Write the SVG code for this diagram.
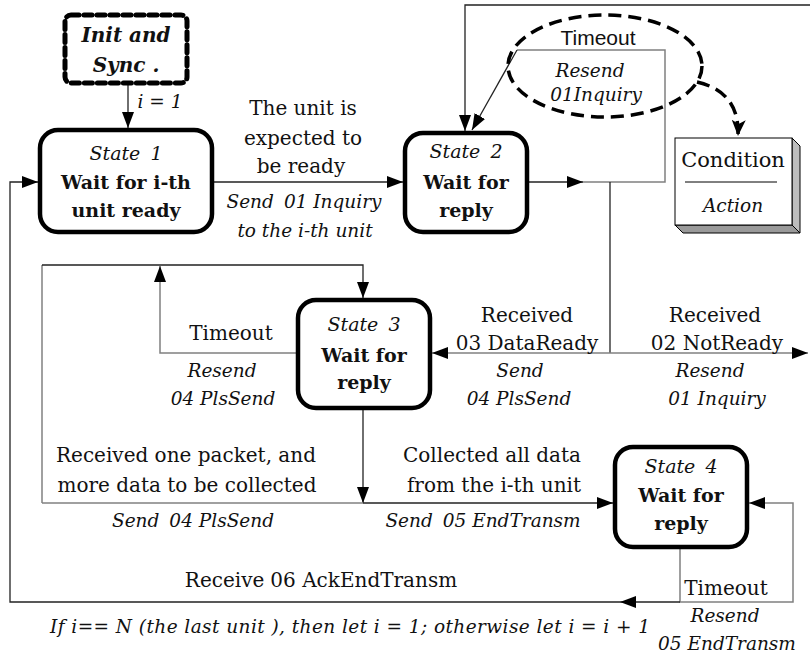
<svg xmlns="http://www.w3.org/2000/svg" width="810" height="658" viewBox="0 0 810 658">
<defs>
<style>
.t{font-family:"DejaVu Serif",serif;font-size:20px;fill:#111;text-anchor:middle}
.i{font-style:italic;font-size:18.5px}
.b{font-weight:bold;font-size:19px}
.st{font-style:italic;font-size:19px}
.bi{font-style:italic;font-weight:bold;font-size:20px}
.sans{font-family:"Liberation Sans",Arial,sans-serif;font-size:21px;fill:#111;text-anchor:middle}
.k{fill:none;stroke:#222;stroke-width:1.3}
.g{fill:none;stroke:#808080;stroke-width:1.5}
.state{fill:#fff;stroke:#000;stroke-width:4.5}
</style>
<marker id="ah" viewBox="0 0 16 12" refX="16" refY="6" markerWidth="16" markerHeight="12" markerUnits="userSpaceOnUse" orient="auto"><path d="M0,0 L16,6 L0,12 z" fill="#000"/></marker>
<marker id="ah2" viewBox="0 0 16 14" refX="16" refY="7" markerWidth="16" markerHeight="14" markerUnits="userSpaceOnUse" orient="auto"><path d="M0,0 L16,7 L0,14 L4,7 z" fill="#000"/></marker>
</defs>
<rect width="810" height="658" fill="#fff"/>

<g id="connectors">
  <!-- init to state1 -->
  <path class="k" d="M128,84 L128,128" marker-end="url(#ah)"/>
  <!-- state1 to state2 -->
  <path class="k" d="M212,182 L403,182" marker-end="url(#ah)"/>
  <!-- top line into state2 -->
  <path class="k" d="M810,5 L465,5 L465,131" marker-end="url(#ah)"/>
  <!-- state2 out -->
  <path class="k" d="M527,182 L583,182" marker-end="url(#ah)"/>
  <path class="g" d="M583,182 L665,182 L665,50 L517,50"/>
  <path class="k" d="M517,50 L472,130" marker-end="url(#ah)"/>
  <!-- down to received -->
  <path class="k" d="M610,182 L610,353"/>
  <path class="g" d="M610,353 L432,353" marker-end="url(#ah)"/>
  <path class="g" d="M610,353 L808,353" marker-end="url(#ah)"/>
  <!-- state3 timeout -->
  <path class="g" d="M298,353 L160,353 L160,266" marker-end="url(#ah)"/>
  <!-- loop into state3 top -->
  <path class="g" d="M42,503 L42,265"/>
  <path class="k" d="M42,265 L363,265 L363,298" marker-end="url(#ah)"/>
  <!-- state3 down -->
  <path class="k" d="M363,408 L363,503" marker-end="url(#ah)"/>
  <path class="g" d="M363,503 L42,503"/>
  <path class="k" d="M363,503 L613,503" marker-end="url(#ah)"/>
  <!-- state4 out -->
  <path class="g" d="M680,547 L680,602 L793,602 L793,503 L749,503" marker-end="url(#ah)"/>
  <path class="k" d="M680,602 L620,602" marker-end="url(#ah)"/>
  <path class="k" d="M620,602 L10,602 L10,182 L38,182" marker-end="url(#ah)"/>
  <!-- legend -->
  <ellipse cx="605" cy="66" rx="97" ry="51" fill="none" stroke="#000" stroke-width="3.5" stroke-dasharray="13 7"/>
  <path d="M697,82 Q740,92 738,136" fill="none" stroke="#000" stroke-width="3.5" stroke-dasharray="13 7" marker-end="url(#ah2)"/>
</g>

<g id="init">
  <rect x="65" y="15" width="122" height="68" rx="6" fill="#fff" stroke="#000" stroke-width="5" stroke-dasharray="8 5" stroke-linecap="round"/>
  <text class="t bi" x="126" y="42">Init and</text>
  <text class="t bi" x="126" y="72">Sync .</text>
</g>

<g id="state1">
  <rect class="state" x="40" y="130" width="172" height="102" rx="18"/>
  <text class="t st" x="126" y="160" word-spacing="4">State 1</text>
  <text class="t b" x="126" y="189">Wait for i-th</text>
  <text class="t b" x="126" y="217">unit ready</text>
</g>

<g id="state2">
  <rect class="state" x="405" y="133" width="122" height="99" rx="18"/>
  <text class="t st" x="466" y="158" word-spacing="4">State 2</text>
  <text class="t b" x="466" y="189">Wait for</text>
  <text class="t b" x="466" y="217">reply</text>
</g>

<g id="state3">
  <rect class="state" x="298" y="300" width="132" height="108" rx="18"/>
  <text class="t st" x="364" y="331" word-spacing="4">State 3</text>
  <text class="t b" x="364" y="362">Wait for</text>
  <text class="t b" x="364" y="389">reply</text>
</g>

<g id="state4">
  <rect class="state" x="615" y="447" width="132" height="100" rx="18"/>
  <text class="t st" x="681" y="473" word-spacing="4">State 4</text>
  <text class="t b" x="681" y="502">Wait for</text>
  <text class="t b" x="681" y="530">reply</text>
</g>

<g id="legend">
  <polygon points="792,138 800,146 800,233 792,225" fill="#bdbdbd" stroke="#000" stroke-width="1"/>
  <polygon points="675,225 683,233 800,233 792,225" fill="#9a9a9a" stroke="#000" stroke-width="1"/>
  <rect x="675" y="138" width="117" height="87" fill="#fff" stroke="#000" stroke-width="1"/>
  <text class="t" x="733" y="167" style="font-size:21px">Condition</text>
  <line x1="685" y1="182" x2="777" y2="182" stroke="#000" stroke-width="1"/>
  <text class="t i" x="733" y="212">Action</text>
</g>

<g id="labels">
  <text class="t i" x="160" y="108">i = 1</text>
  <text class="t" x="303" y="115">The unit is</text>
  <text class="t" x="303" y="145">expected to</text>
  <text class="t" x="301" y="173">be ready</text>
  <text class="t i" x="304" y="208">Send<tspan dx="10">01 Inquiry</tspan></text>
  <text class="t i" x="305" y="237">to the i-th unit</text>
  <text class="sans" x="598" y="45">Timeout</text>
  <text class="t i" x="590" y="77">Resend</text>
  <text class="t i" x="596" y="101">01Inquiry</text>
  <text class="t" x="527" y="322">Received</text>
  <text class="t" x="527" y="350">03 DataReady</text>
  <text class="t i" x="520" y="377">Send</text>
  <text class="t i" x="519" y="405">04 PlsSend</text>
  <text class="t" x="715" y="322">Received</text>
  <text class="t" x="717" y="350">02 NotReady</text>
  <text class="t i" x="710" y="377">Resend</text>
  <text class="t i" x="717" y="405">01 Inquiry</text>
  <text class="t" x="231" y="340">Timeout</text>
  <text class="t i" x="222" y="377">Resend</text>
  <text class="t i" x="223" y="405">04 PlsSend</text>
  <text class="t" x="186" y="462">Received one packet, and</text>
  <text class="t" x="187" y="492">more data to be collected</text>
  <text class="t i" x="193" y="527">Send<tspan dx="10">04 PlsSend</tspan></text>
  <text class="t" x="492" y="462">Collected all data</text>
  <text class="t" x="494" y="492">from the i-th unit</text>
  <text class="t i" x="483" y="527">Send<tspan dx="10">05 EndTransm</tspan></text>
  <text class="t" x="321" y="587">Receive<tspan dx="6">06 AckEndTransm</tspan></text>
  <text class="t i" x="350" y="633" textLength="600">If i== N (the last unit ), then let i = 1; otherwise let i = i + 1</text>
  <text class="t" x="726" y="595">Timeout</text>
  <text class="t i" x="725" y="622">Resend</text>
  <text class="t i" x="727" y="650">05 EndTransm</text>
</g>
</svg>
